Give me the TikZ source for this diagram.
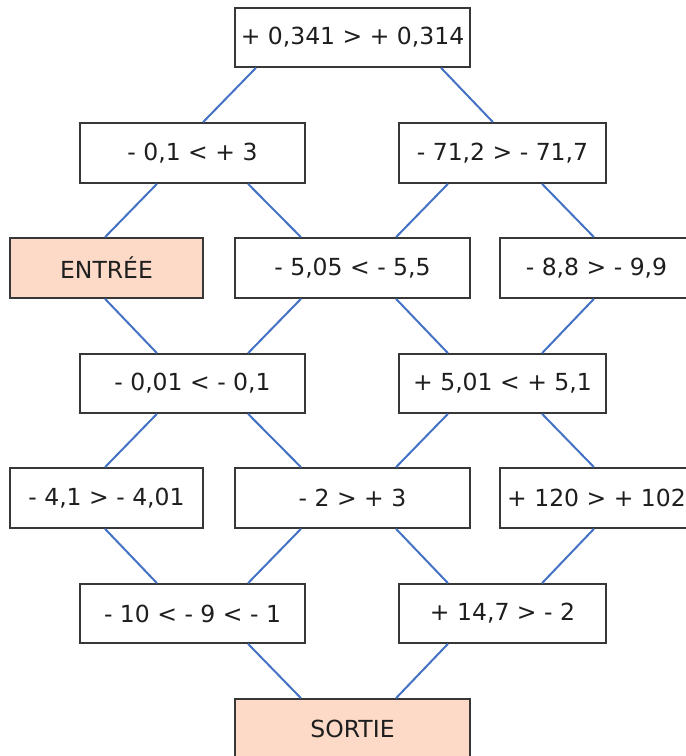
\documentclass[tikz,border=0pt]{standalone}
\usepackage{fontspec}
\setmainfont{DejaVu Sans}
\usepackage{tikz}
\definecolor{peach}{RGB}{252, 218, 199}
\definecolor{linkblue}{RGB}{68, 114, 196}
\definecolor{edgegray}{RGB}{55, 55, 55}
\definecolor{textgray}{RGB}{30, 30, 30}

\begin{document}
\begin{tikzpicture}[
    x=1pt, y=-1pt,
    box/.style={draw=edgegray, line width=1.6pt, fill=white, minimum height=59pt, inner sep=0pt, text=textgray, font=\fontsize{23.5}{28}\selectfont},
    wide/.style={box, minimum width=235pt},
    mid/.style={box, minimum width=225pt},
    narrow/.style={box, minimum width=207pt},
    small/.style={box, minimum width=193pt},
    endbox/.style={fill=peach},
    link/.style={draw=linkblue, line width=2pt}
]
\clip (0,0) rectangle (686,756);

% Row 1
\node[wide] (top) at (352.5,37.5) {+ 0,341 > + 0,314};

% Row 2
\node[mid, minimum height=60pt] (r2l) at (192.5,153) {- 0,1 < + 3};
\node[narrow, minimum height=60pt] (r2r) at (502.5,153) {- 71,2 > - 71,7};

% Row 3
\node[small, endbox, minimum height=60pt] (entree) at (106.5,268) {ENTRÉE};
\node[wide, minimum height=60pt] (r3m) at (352.5,268) {- 5,05 < - 5,5};
\node[small, minimum height=60pt] (r3r) at (596.5,268) {- 8,8 > - 9,9};

% Row 4
\node[mid] (r4l) at (192.5,383.5) {- 0,01 < - 0,1};
\node[narrow] (r4r) at (502.5,383.5) {+ 5,01 < + 5,1};

% Row 5
\node[small, minimum height=60pt] (r5l) at (106.5,498) {- 4,1 > - 4,01};
\node[wide, minimum height=60pt] (r5m) at (352.5,498) {- 2 > + 3};
\node[small, minimum height=60pt] (r5r) at (596.5,498) {+ 120 > + 102\hspace{5pt}};

% Row 6
\node[mid] (r6l) at (192.5,613.5) {- 10 < - 9 < - 1};
\node[narrow] (r6r) at (502.5,613.5) {+ 14,7 > - 2};

% Row 7
\node[wide, endbox] (sortie) at (352.5,728.5) {SORTIE};

% Links
\draw[link] (top.south -| 256,0) -- (r2l.north -| 203,0);
\draw[link] (top.south -| 441,0) -- (r2r.north -| 493,0);

\draw[link] (r2l.south -| 157,0) -- (entree.north -| 105,0);
\draw[link] (r2l.south -| 248,0) -- (r3m.north -| 301,0);
\draw[link] (r2r.south -| 448,0) -- (r3m.north -| 396,0);
\draw[link] (r2r.south -| 542,0) -- (r3r.north -| 594,0);

\draw[link] (entree.south -| 105,0) -- (r4l.north -| 157,0);
\draw[link] (r3m.south -| 301,0) -- (r4l.north -| 248,0);
\draw[link] (r3m.south -| 396,0) -- (r4r.north -| 448,0);
\draw[link] (r3r.south -| 594,0) -- (r4r.north -| 542,0);

\draw[link] (r4l.south -| 157,0) -- (r5l.north -| 105,0);
\draw[link] (r4l.south -| 248,0) -- (r5m.north -| 301,0);
\draw[link] (r4r.south -| 448,0) -- (r5m.north -| 396,0);
\draw[link] (r4r.south -| 542,0) -- (r5r.north -| 594,0);

\draw[link] (r5l.south -| 105,0) -- (r6l.north -| 157,0);
\draw[link] (r5m.south -| 301,0) -- (r6l.north -| 248,0);
\draw[link] (r5m.south -| 396,0) -- (r6r.north -| 448,0);
\draw[link] (r5r.south -| 594,0) -- (r6r.north -| 542,0);

\draw[link] (r6l.south -| 248,0) -- (sortie.north -| 301,0);
\draw[link] (r6r.south -| 448,0) -- (sortie.north -| 396,0);

\end{tikzpicture}
\end{document}
